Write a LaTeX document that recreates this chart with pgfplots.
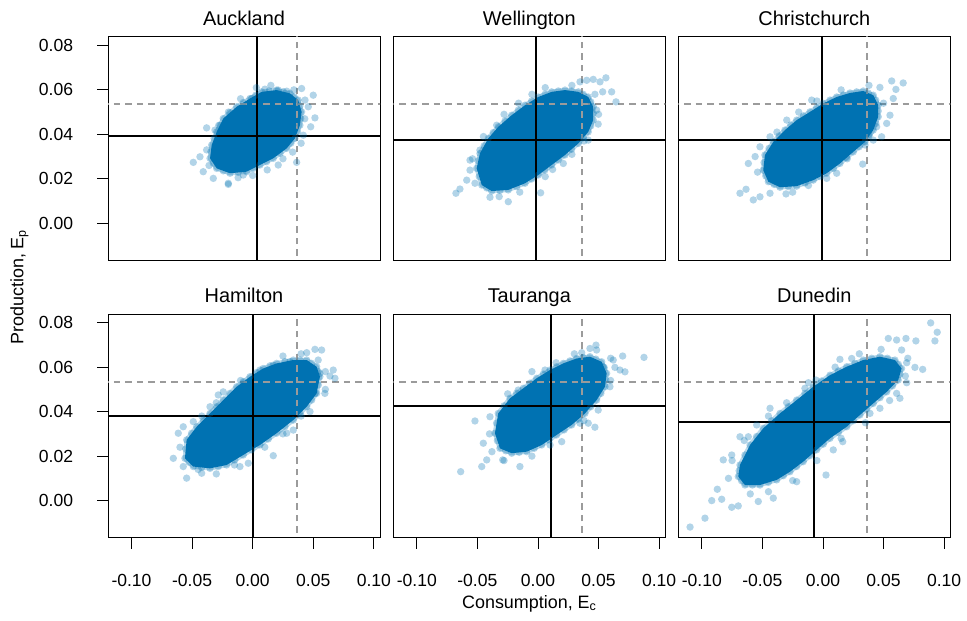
\documentclass[border=0pt]{standalone}
\usepackage{fontspec}
\setmainfont{Liberation Sans}
\usepackage{pgfplots}
\usepackage{pgfplotstable}
\pgfplotsset{compat=1.18}

\definecolor{cblue}{RGB}{0,114,178}
\definecolor{refgray}{RGB}{155,155,155}

% ---------- Auckland ----------
\pgfplotstableread{
x y
-0.0243 0.0471
-0.0132 0.0524
-0.0022 0.0561
0.0074 0.0591
0.0198 0.0599
0.0308 0.0584
0.0376 0.0554
0.0404 0.0501
0.0390 0.0441
0.0349 0.0382
0.0281 0.0337
0.0170 0.0292
0.0060 0.0262
-0.0050 0.0232
-0.0187 0.0225
-0.0297 0.0247
-0.0352 0.0292
-0.0338 0.0352
-0.0297 0.0411
}\aklcore
\pgfplotstableread{
x y
-0.0188 0.0498
-0.0077 0.0543
0.0026 0.0576
0.0136 0.0595
0.0253 0.0592
0.0342 0.0569
0.0390 0.0528
0.0397 0.0471
0.0370 0.0412
0.0315 0.0360
0.0226 0.0315
0.0115 0.0277
0.0005 0.0247
-0.0119 0.0229
-0.0242 0.0236
-0.0325 0.0270
-0.0345 0.0322
-0.0318 0.0382
-0.0270 0.0441
}\aklrim
\pgfplotstableread{
x y
-0.0490 0.0274
-0.0435 0.0299
-0.0380 0.0429
-0.0311 0.0419
-0.0408 0.0232
-0.0325 0.0202
-0.0201 0.0175
-0.0078 0.0217
0.0500 0.0576
0.0514 0.0474
0.0479 0.0434
0.0363 0.0274
0.0211 0.0262
0.0459 0.0524
0.0101 0.0603
0.0211 0.0599
0.0281 0.0594
-0.0008 0.0561
0.0432 0.0554
0.0418 0.0396
-0.0201 0.0180
0.0404 0.0606
-0.0380 0.0330
-0.0360 0.0260
-0.0280 0.0440
-0.0200 0.0500
-0.0120 0.0205
0.0000 0.0215
0.0120 0.0240
0.0250 0.0290
0.0430 0.0470
0.0400 0.0360
0.0330 0.0320
0.0030 0.0610
0.0150 0.0620
0.0340 0.0600
-0.0100 0.0560
}\aklpts

% ---------- Wellington ----------
\pgfplotstableread{
x y
-0.0506 0.0247
-0.0479 0.0314
-0.0410 0.0382
-0.0327 0.0434
-0.0217 0.0486
-0.0107 0.0531
0.0003 0.0568
0.0113 0.0591
0.0223 0.0599
0.0333 0.0591
0.0415 0.0568
0.0456 0.0524
0.0456 0.0464
0.0415 0.0411
0.0333 0.0359
0.0223 0.0307
0.0113 0.0262
0.0003 0.0217
-0.0107 0.0180
-0.0245 0.0150
-0.0382 0.0145
-0.0464 0.0172
}\wlgcore
\pgfplotstableread{
x y
-0.0493 0.0281
-0.0445 0.0348
-0.0369 0.0408
-0.0272 0.0460
-0.0162 0.0509
-0.0052 0.0550
0.0058 0.0580
0.0168 0.0595
0.0278 0.0595
0.0374 0.0580
0.0436 0.0546
0.0456 0.0494
0.0436 0.0438
0.0374 0.0385
0.0278 0.0333
0.0168 0.0285
0.0058 0.0240
-0.0052 0.0199
-0.0176 0.0165
-0.0314 0.0148
-0.0423 0.0159
-0.0485 0.0210
}\wlgrim
\pgfplotstableread{
x y
-0.0677 0.0135
-0.0644 0.0154
-0.0588 0.0194
-0.0561 0.0239
-0.0396 0.0117
-0.0245 0.0097
0.0022 0.0137
0.0121 0.0242
0.0209 0.0269
0.0415 0.0374
0.0484 0.0509
0.0497 0.0446
0.0347 0.0636
0.0402 0.0643
0.0456 0.0647
0.0512 0.0636
0.0561 0.0654
0.0608 0.0591
0.0644 0.0546
0.0534 0.0591
-0.0341 0.0441
-0.0479 0.0329
-0.0561 0.0284
-0.0280 0.0490
-0.0160 0.0540
-0.0050 0.0580
0.0060 0.0610
0.0280 0.0620
0.0470 0.0580
0.0500 0.0490
0.0380 0.0370
0.0280 0.0310
0.0060 0.0210
-0.0150 0.0140
-0.0320 0.0120
-0.0520 0.0180
-0.0540 0.0290
-0.0450 0.0390
}\wlgpts

% ---------- Christchurch ----------
\pgfplotstableread{
x y
-0.0493 0.0239
-0.0479 0.0307
-0.0410 0.0366
-0.0314 0.0419
-0.0217 0.0464
-0.0107 0.0501
0.0003 0.0539
0.0113 0.0568
0.0223 0.0586
0.0333 0.0595
0.0415 0.0576
0.0456 0.0531
0.0456 0.0479
0.0415 0.0419
0.0347 0.0366
0.0250 0.0321
0.0140 0.0269
0.0031 0.0225
-0.0080 0.0194
-0.0217 0.0167
-0.0355 0.0162
-0.0451 0.0187
}\chccore
\pgfplotstableread{
x y
-0.0486 0.0273
-0.0445 0.0337
-0.0362 0.0393
-0.0266 0.0442
-0.0162 0.0483
-0.0052 0.0520
0.0058 0.0554
0.0168 0.0577
0.0278 0.0591
0.0374 0.0586
0.0436 0.0554
0.0456 0.0505
0.0436 0.0449
0.0381 0.0393
0.0299 0.0344
0.0195 0.0295
0.0086 0.0247
-0.0025 0.0210
-0.0149 0.0181
-0.0286 0.0165
-0.0403 0.0175
-0.0472 0.0213
}\chcrim
\pgfplotstableread{
x y
-0.0685 0.0135
-0.0635 0.0153
-0.0616 0.0269
-0.0575 0.0105
-0.0520 0.0119
-0.0437 0.0135
-0.0305 0.0132
0.0328 0.0266
0.0415 0.0374
0.0484 0.0389
0.0553 0.0486
0.0580 0.0561
0.0602 0.0602
0.0662 0.0631
0.0567 0.0640
0.0470 0.0611
-0.0520 0.0344
-0.0437 0.0389
-0.0299 0.0464
-0.0093 0.0554
0.0526 0.0449
0.0443 0.0434
0.0347 0.0352
0.0113 0.0225
0.0031 0.0202
-0.0200 0.0500
-0.0050 0.0550
0.0150 0.0600
0.0380 0.0620
0.0500 0.0540
0.0380 0.0400
0.0200 0.0290
-0.0120 0.0170
-0.0250 0.0140
-0.0540 0.0230
-0.0560 0.0300
-0.0380 0.0410
}\chcpts

% ---------- Hamilton ----------
\pgfplotstableread{
x y
-0.0545 0.0273
-0.0462 0.0332
-0.0352 0.0392
-0.0243 0.0452
-0.0132 0.0512
-0.0022 0.0557
0.0087 0.0594
0.0198 0.0617
0.0335 0.0632
0.0446 0.0632
0.0528 0.0602
0.0555 0.0557
0.0528 0.0482
0.0446 0.0422
0.0335 0.0362
0.0198 0.0303
0.0060 0.0250
-0.0078 0.0205
-0.0215 0.0160
-0.0352 0.0145
-0.0490 0.0153
-0.0559 0.0190
}\hlzcore
\pgfplotstableread{
x y
-0.0504 0.0303
-0.0407 0.0362
-0.0298 0.0422
-0.0188 0.0482
-0.0077 0.0535
0.0033 0.0576
0.0143 0.0606
0.0267 0.0625
0.0391 0.0632
0.0487 0.0617
0.0542 0.0580
0.0542 0.0520
0.0487 0.0452
0.0391 0.0392
0.0267 0.0333
0.0129 0.0277
-0.0009 0.0228
-0.0147 0.0183
-0.0284 0.0153
-0.0421 0.0149
-0.0525 0.0172
-0.0552 0.0232
}\hlzrim
\pgfplotstableread{
x y
-0.0655 0.0190
-0.0614 0.0303
-0.0573 0.0332
-0.0545 0.0101
-0.0573 0.0153
-0.0421 0.0123
-0.0490 0.0355
-0.0352 0.0422
-0.0243 0.0489
-0.0105 0.0153
-0.0036 0.0168
0.0170 0.0202
0.0281 0.0303
0.0335 0.0317
0.0473 0.0400
0.0514 0.0482
0.0596 0.0482
0.0638 0.0560
0.0665 0.0587
0.0679 0.0550
0.0446 0.0665
0.0514 0.0680
0.0569 0.0677
0.0541 0.0632
0.0555 0.0572
0.0308 0.0624
0.0170 0.0609
0.0060 0.0587
-0.0284 0.0475
-0.0490 0.0242
-0.0600 0.0240
-0.0420 0.0380
-0.0300 0.0440
-0.0100 0.0540
0.0250 0.0650
0.0400 0.0660
0.0600 0.0580
0.0600 0.0500
0.0400 0.0380
0.0250 0.0300
0.0100 0.0240
-0.0150 0.0160
-0.0300 0.0120
-0.0450 0.0140
}\hlzpts

% ---------- Tauranga ----------
\pgfplotstableread{
x y
-0.0328 0.0392
-0.0231 0.0460
-0.0121 0.0505
-0.0011 0.0550
0.0099 0.0587
0.0209 0.0617
0.0319 0.0639
0.0429 0.0647
0.0526 0.0624
0.0567 0.0572
0.0553 0.0512
0.0484 0.0452
0.0388 0.0392
0.0278 0.0340
0.0154 0.0295
0.0031 0.0250
-0.0093 0.0220
-0.0217 0.0213
-0.0314 0.0235
-0.0355 0.0303
}\trgcore
\pgfplotstableread{
x y
-0.0280 0.0426
-0.0176 0.0483
-0.0066 0.0528
0.0044 0.0569
0.0154 0.0602
0.0264 0.0628
0.0374 0.0643
0.0478 0.0636
0.0547 0.0598
0.0560 0.0542
0.0519 0.0482
0.0436 0.0422
0.0333 0.0366
0.0216 0.0318
0.0093 0.0273
-0.0031 0.0235
-0.0155 0.0217
-0.0266 0.0224
-0.0335 0.0269
-0.0342 0.0348
}\trgrim
\pgfplotstableread{
x y
-0.0638 0.0130
-0.0520 0.0358
-0.0464 0.0153
-0.0423 0.0183
-0.0451 0.0258
-0.0396 0.0377
-0.0291 0.0183
-0.0149 0.0153
-0.0163 0.0497
0.0196 0.0265
0.0347 0.0348
0.0415 0.0348
0.0470 0.0330
0.0497 0.0407
0.0594 0.0512
0.0677 0.0587
0.0718 0.0579
0.0699 0.0650
0.0875 0.0644
0.0621 0.0632
0.0479 0.0699
0.0429 0.0684
0.0361 0.0665
0.0484 0.0677
0.0058 0.0587
-0.0176 0.0452
0.0635 0.0599
0.0539 0.0602
-0.0400 0.0300
-0.0380 0.0220
-0.0280 0.0180
-0.0050 0.0200
0.0100 0.0250
0.0380 0.0360
0.0600 0.0540
0.0600 0.0640
0.0300 0.0660
0.0150 0.0620
-0.0050 0.0580
-0.0250 0.0480
}\trgpts

% ---------- Dunedin ----------
\pgfplotstableread{
x y
-0.0685 0.0160
-0.0602 0.0250
-0.0493 0.0325
-0.0355 0.0392
-0.0217 0.0452
-0.0080 0.0512
0.0058 0.0564
0.0196 0.0602
0.0332 0.0632
0.0470 0.0647
0.0594 0.0632
0.0649 0.0594
0.0621 0.0542
0.0526 0.0489
0.0415 0.0437
0.0305 0.0385
0.0196 0.0332
0.0058 0.0280
-0.0052 0.0228
-0.0163 0.0175
-0.0272 0.0130
-0.0382 0.0093
-0.0520 0.0070
-0.0644 0.0070
-0.0699 0.0108
}\dudcore
\pgfplotstableread{
x y
-0.0644 0.0205
-0.0548 0.0288
-0.0424 0.0359
-0.0286 0.0422
-0.0149 0.0482
-0.0011 0.0538
0.0127 0.0583
0.0264 0.0617
0.0401 0.0640
0.0532 0.0640
0.0622 0.0613
0.0635 0.0568
0.0574 0.0516
0.0471 0.0463
0.0360 0.0411
0.0251 0.0359
0.0127 0.0306
0.0003 0.0254
-0.0108 0.0202
-0.0218 0.0153
-0.0327 0.0112
-0.0451 0.0082
-0.0582 0.0070
-0.0672 0.0089
-0.0692 0.0134
}\dudrim
\pgfplotstableread{
x y
-0.1097 -0.0119
-0.0974 -0.0079
-0.0918 0.0000
-0.0836 0.0006
-0.0753 -0.0030
-0.0699 -0.0024
-0.0534 -0.0004
-0.0410 0.0011
-0.0872 0.0051
-0.0823 0.0183
-0.0753 0.0205
-0.0685 0.0287
-0.0616 0.0287
-0.0547 0.0340
-0.0437 0.0415
-0.0217 0.0085
0.0025 0.0115
0.0085 0.0228
0.0163 0.0265
-0.0149 0.0505
-0.0058 0.0542
0.0140 0.0635
0.0237 0.0639
0.0539 0.0729
0.0608 0.0722
0.0685 0.0729
0.0767 0.0718
0.0649 0.0677
0.0691 0.0620
0.0759 0.0599
0.0823 0.0590
0.0691 0.0530
0.0608 0.0482
0.0635 0.0460
0.0470 0.0575
0.0470 0.0415
0.0388 0.0392
0.0889 0.0799
0.0943 0.0757
0.0924 0.0718
0.0526 0.0609
0.0299 0.0512
-0.0780 0.0100
-0.0750 0.0180
-0.0650 0.0270
-0.0450 0.0380
-0.0300 0.0440
-0.0120 0.0530
0.0100 0.0600
0.0300 0.0660
0.0480 0.0680
0.0700 0.0640
0.0680 0.0560
0.0550 0.0450
0.0350 0.0350
0.0150 0.0280
-0.0050 0.0180
-0.0250 0.0090
-0.0450 0.0040
-0.0600 0.0030
}\dudpts

\newcommand{\ticksize}{\fontsize{17.6}{20}\selectfont}

\pgfplotsset{
  panel/.style={
    scale only axis, width=272bp, height=223.5bp,
    xmin=-0.1194, xmax=0.1051, ymin=-0.0166, ymax=0.0839,
    scaled ticks=false,
    axis line style={line width=0.9bp},
    tick style={line width=0.9bp, black},
    major tick length=11bp, tick align=outside,
    xtick=\empty, ytick=\empty,
    every axis title/.style={at={(0.5,1)}, anchor=base, yshift=11.7bp,
      inner sep=0pt, font=\fontsize{20}{22}\selectfont},
  },
  xbottom/.style={
    xtick={-0.1,-0.05,0,0.05,0.1},
    xticklabels={-0.10,-0.05,0.00,0.05,0.10},
    xtick pos=left,
    xticklabel style={font=\ticksize, anchor=base, inner sep=0pt, yshift=-37.8bp},
  },
  yleft/.style={
    ytick={0,0.02,0.04,0.06,0.08},
    yticklabels={0.00,0.02,0.04,0.06,0.08},
    ytick pos=left,
    yticklabel style={font=\ticksize, anchor=east, inner sep=0pt, xshift=-23.7bp},
  },
  core/.style={fill=cblue, draw=cblue, draw opacity=0.28, line width=4.5bp, line join=round},
  % semi-transparent dots with no outline (the circle mark always strokes,
  % so its stroke is made fully transparent)
  cloud/.style={only marks, mark=*, mark size=3.7bp,
    mark options={draw=cblue, draw opacity=0, fill=cblue, fill opacity=0.3}},
  refline/.style={black, line width=1.8bp},
  thresh/.style={refgray, line width=1.8bp, dash pattern=on 6.5bp off 5bp},
}

% one city panel: #1,#2 top-left corner, #3 city, #4 core outline, #5 rim points,
% #6 scattered points, #7 mean consumption, #8 mean production, #9 tick styles
\newcommand{\citypanel}[9]{%
  \begin{axis}[panel, #9, at={(#1,#2)}, anchor=north west, title={#3}]
    \addplot[core] table {#4} -- cycle;
    \addplot[cloud] table {#4};
    \addplot[cloud] table {#5};
    \addplot[cloud] table {#6};
    \addplot[thresh] coordinates {(0.0363,-0.03) (0.0363,0.1)};
    \addplot[thresh] coordinates {(-0.2,0.0535) (0.2,0.0535)};
    \addplot[refline] coordinates {(#7,-0.03) (#7,0.1)};
    \addplot[refline] coordinates {(-0.2,#8) (0.2,#8)};
  \end{axis}%
}

\begin{document}
\begin{tikzpicture}
  \useasboundingbox (0,0) rectangle (967bp,-621bp);
  \citypanel{108bp}{-36.7bp}{Auckland}{\aklcore}{\aklrim}{\aklpts}{0.0038}{0.0394}{yleft}
  \citypanel{393.3bp}{-36.7bp}{Wellington}{\wlgcore}{\wlgrim}{\wlgpts}{-0.0014}{0.0374}{}
  \citypanel{678.3bp}{-36.7bp}{Christchurch}{\chccore}{\chcrim}{\chcpts}{-0.0011}{0.0375}{}
  \citypanel{108bp}{-314bp}{Hamilton}{\hlzcore}{\hlzrim}{\hlzpts}{0.0000}{0.0382}{yleft,xbottom}
  \citypanel{393.3bp}{-314bp}{Tauranga}{\trgcore}{\trgrim}{\trgpts}{0.0107}{0.0427}{xbottom}
  \citypanel{678.3bp}{-314bp}{Dunedin}{\dudcore}{\dudrim}{\dudpts}{-0.0072}{0.0355}{xbottom}
  \node[rotate=90, anchor=base, font=\fontsize{18}{20}\selectfont]
    at (23.3bp,-287.1bp) {Production, E\textsubscript{p}};
  \node[anchor=base, font=\fontsize{18}{20}\selectfont]
    at (529.3bp,-608.3bp) {Consumption, E\textsubscript{c}};
\end{tikzpicture}
\end{document}
